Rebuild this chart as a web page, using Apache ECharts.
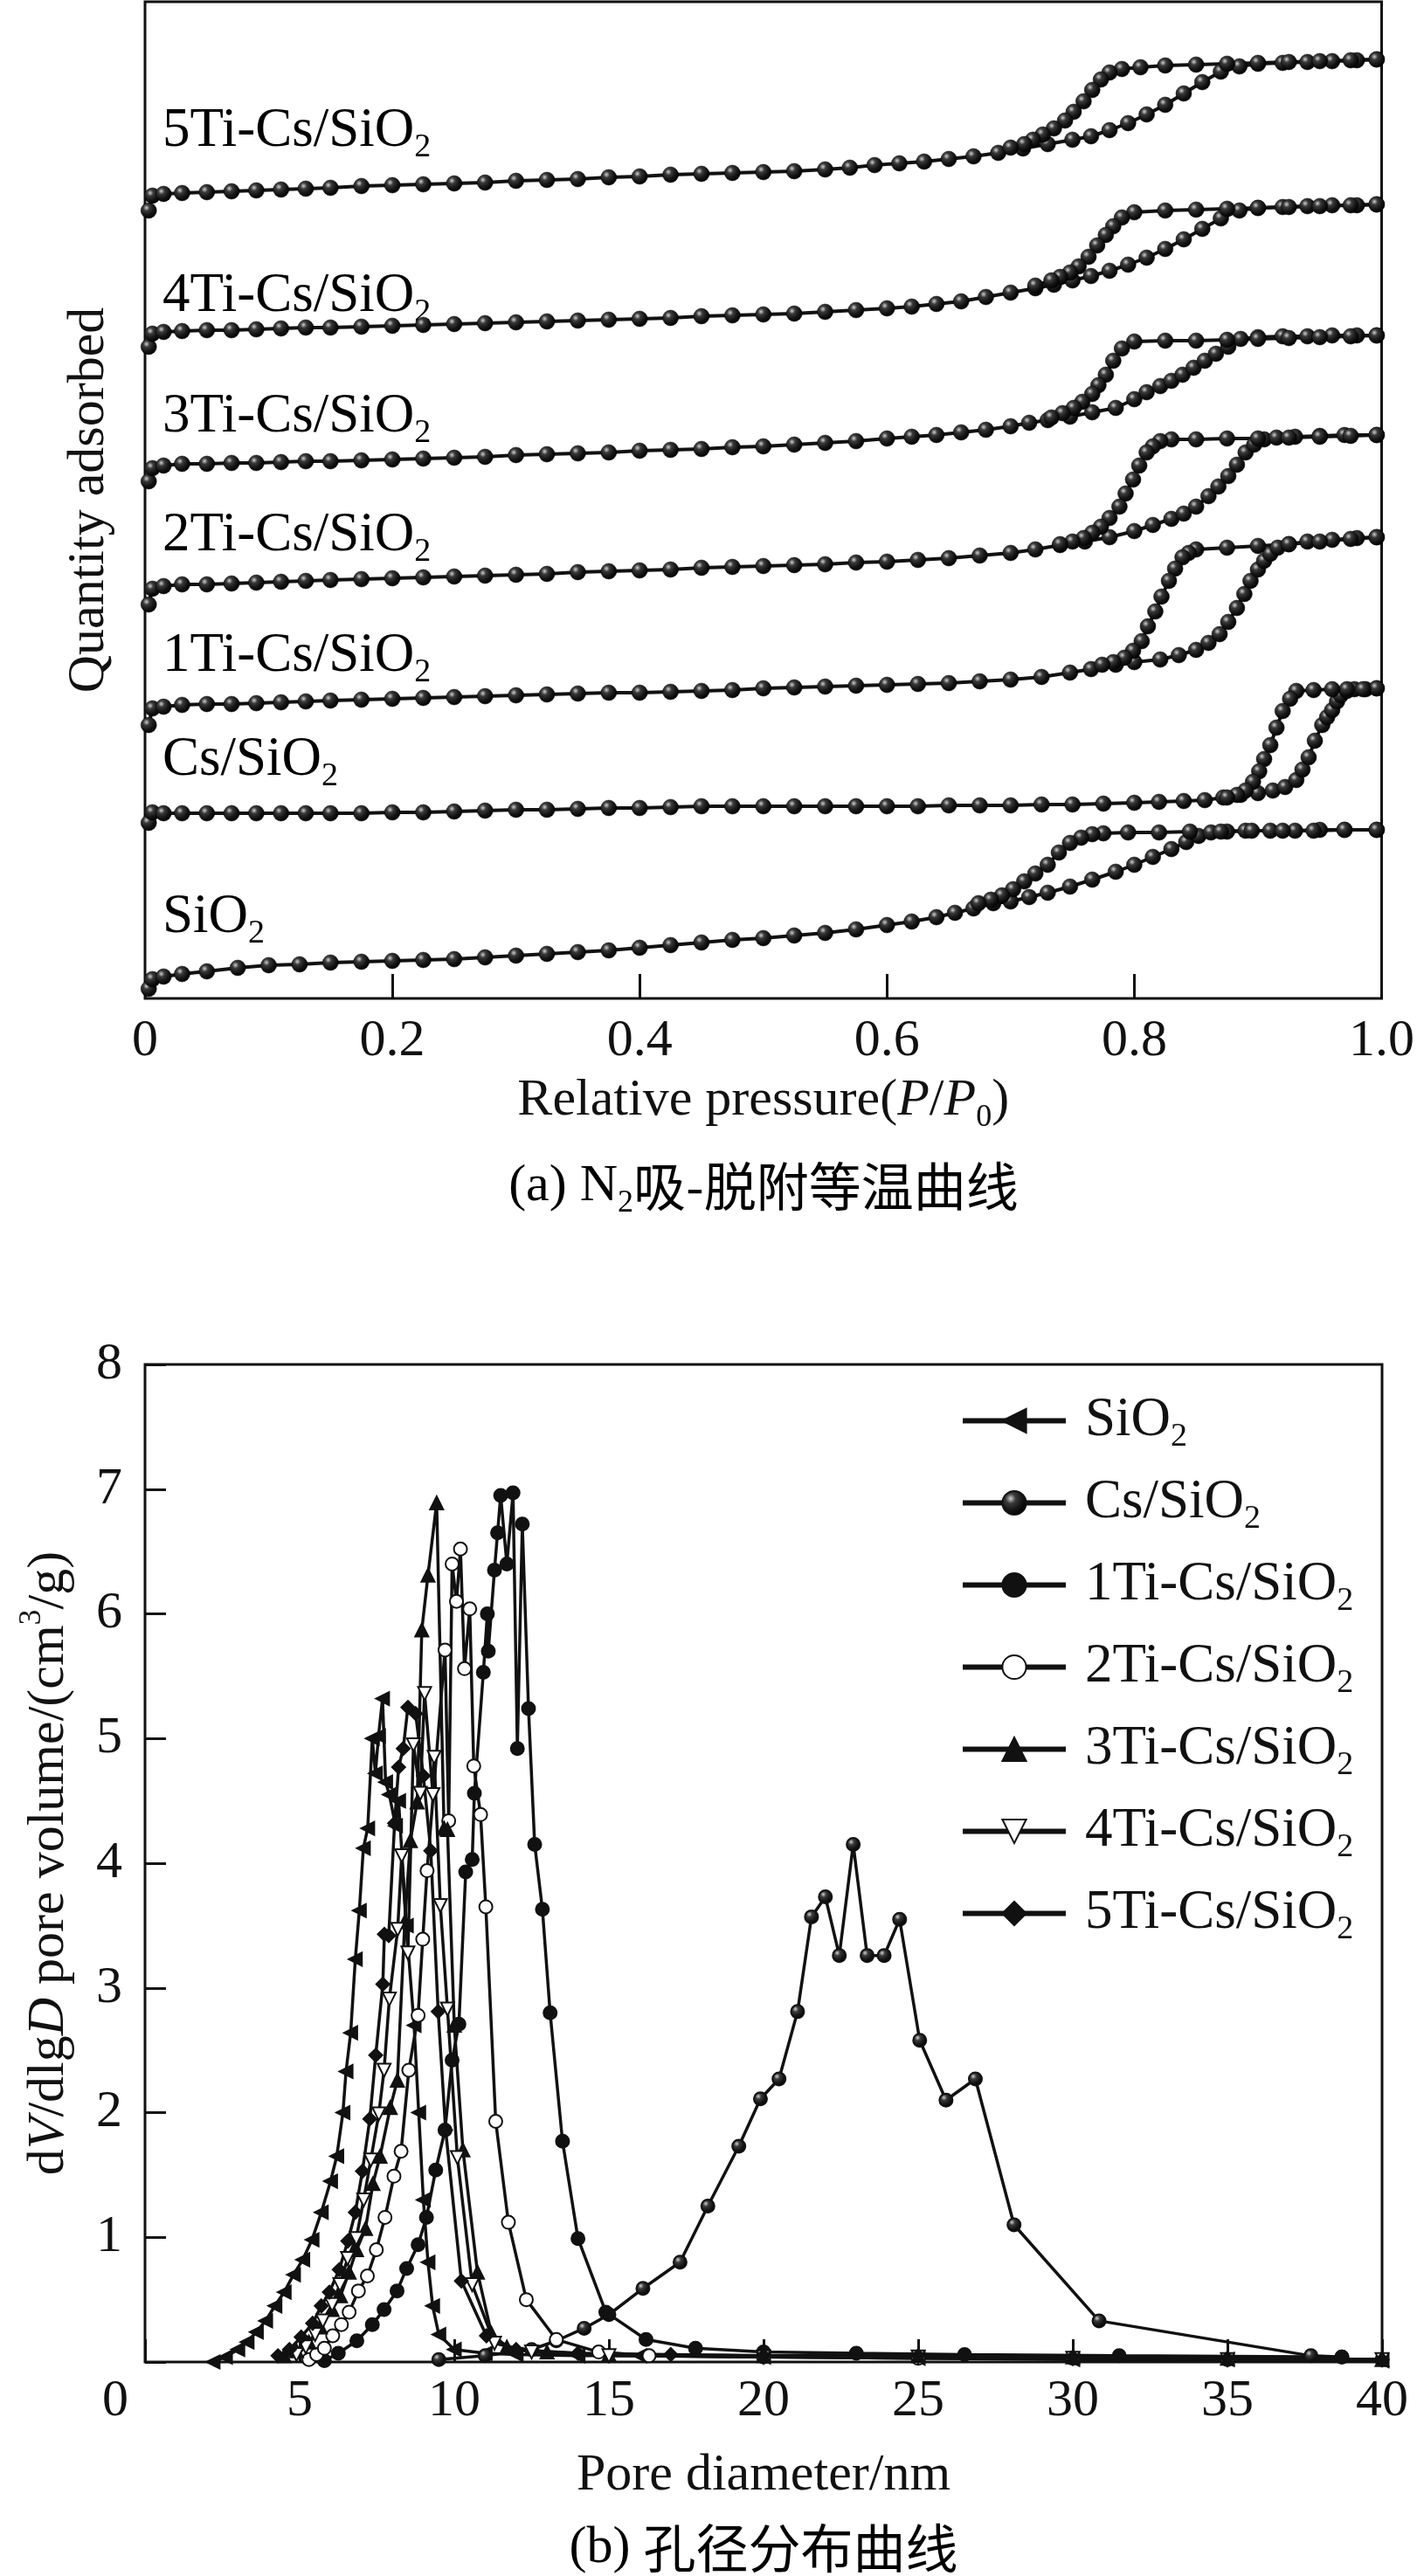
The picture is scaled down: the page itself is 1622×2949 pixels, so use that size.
<!DOCTYPE html>
<html>
<head>
<meta charset="utf-8">
<script src="https://cdn.jsdelivr.net/npm/echarts@6/dist/echarts.min.js"></script>
<style>
html, body { margin: 0; padding: 0; background: #fff; }
#main { width: 1622px; height: 2949px; }
</style>
</head>
<body>
<div id="main"></div>
<script>
// (a) N2 吸-脱附等温曲线: [P/P0, 吸附量(任意单位, 各曲线已错开)]
var sio2Ads = [[0.003,11],[0.006,22],[0.015,25],[0.03,28],[0.05,31],[0.075,35],[0.10,38],[0.125,39],[0.15,41],[0.175,42],[0.20,43],[0.225,44],[0.25,45],[0.275,47],[0.30,49],[0.325,51],[0.35,53],[0.375,55],[0.40,58],[0.425,61],[0.45,64],[0.475,67],[0.50,69],[0.525,72],[0.55,75],[0.575,79],[0.60,84],[0.62,88],[0.64,93],[0.655,98],[0.67,103],[0.686,109],[0.70,111],[0.715,116],[0.73,121],[0.748,128],[0.766,136],[0.785,145],[0.80,153],[0.815,162],[0.83,171],[0.842,179],[0.852,186],[0.862,190],[0.875,191],[0.89,192],[0.91,192],[0.93,192],[0.95,193],[0.97,193],[0.996,193]];
var sio2Des = [[0.996,193],[0.97,193],[0.945,192],[0.92,192],[0.895,192],[0.87,191],[0.845,191],[0.82,190],[0.795,190],[0.775,189],[0.766,188],[0.757,184],[0.748,178],[0.739,167],[0.73,153],[0.72,143],[0.711,134],[0.702,125],[0.693,118],[0.684,113],[0.674,109]];

var csAds = [[0.003,201],[0.006,213],[0.015,212],[0.03,212],[0.05,212],[0.07,212],[0.09,212],[0.11,212],[0.13,212],[0.15,212],[0.175,212],[0.20,213],[0.225,213],[0.25,214],[0.275,215],[0.30,216],[0.325,216],[0.35,217],[0.375,218],[0.40,218],[0.425,219],[0.45,220],[0.475,220],[0.50,220],[0.525,220],[0.55,220],[0.575,220],[0.60,220],[0.625,220],[0.65,221],[0.675,221],[0.70,221],[0.725,222],[0.75,222],[0.775,223],[0.80,224],[0.82,225],[0.84,226],[0.857,227],[0.872,230],[0.886,233],[0.90,235],[0.912,238],[0.922,242],[0.931,250],[0.936,262],[0.941,276],[0.946,295],[0.952,313],[0.956,322],[0.96,330],[0.964,340],[0.967,347],[0.972,352],[0.978,354],[0.987,354],[0.996,355]];
var csDes = [[0.996,355],[0.985,354],[0.972,354],[0.96,354],[0.945,353],[0.931,352],[0.926,343],[0.92,329],[0.915,310],[0.91,290],[0.905,274],[0.901,260],[0.896,248],[0.89,238],[0.883,233],[0.875,230]];

var ti1Ads = [[0.003,313],[0.006,332],[0.015,334],[0.03,336],[0.05,337],[0.07,337],[0.09,338],[0.11,339],[0.13,340],[0.15,341],[0.175,342],[0.20,343],[0.225,344],[0.25,345],[0.275,346],[0.30,347],[0.325,348],[0.35,349],[0.375,350],[0.40,350],[0.425,351],[0.45,352],[0.475,353],[0.50,355],[0.525,356],[0.55,357],[0.575,358],[0.60,359],[0.625,360],[0.65,361],[0.675,363],[0.70,365],[0.725,368],[0.748,373],[0.765,377],[0.785,382],[0.80,385],[0.821,388],[0.836,393],[0.85,399],[0.86,407],[0.869,417],[0.876,431],[0.883,447],[0.889,463],[0.894,478],[0.90,491],[0.905,501],[0.91,509],[0.916,516],[0.925,520],[0.94,523],[0.96,525],[0.98,527],[0.996,528]];
var ti1Des = [[0.996,528],[0.975,526],[0.95,523],[0.925,520],[0.90,518],[0.875,516],[0.85,514],[0.844,510],[0.839,505],[0.833,492],[0.828,478],[0.822,460],[0.817,443],[0.811,426],[0.806,409],[0.799,398],[0.792,390],[0.783,385],[0.774,382]];

var ti2Ads = [[0.003,451],[0.006,469],[0.015,472],[0.03,474],[0.05,474],[0.07,475],[0.09,476],[0.11,477],[0.13,478],[0.15,479],[0.175,480],[0.20,481],[0.225,482],[0.25,483],[0.275,484],[0.30,485],[0.325,486],[0.35,488],[0.375,489],[0.40,490],[0.425,491],[0.45,493],[0.475,494],[0.50,495],[0.525,496],[0.55,497],[0.575,499],[0.60,500],[0.625,502],[0.65,504],[0.675,507],[0.70,510],[0.72,514],[0.74,519],[0.76,523],[0.78,528],[0.80,535],[0.815,542],[0.83,549],[0.84,555],[0.85,563],[0.86,575],[0.868,586],[0.876,598],[0.883,611],[0.89,625],[0.897,634],[0.905,640],[0.915,642],[0.93,643],[0.95,644],[0.97,645],[0.996,645]];
var ti2Des = [[0.996,645],[0.975,644],[0.95,643],[0.925,642],[0.90,641],[0.875,641],[0.85,640],[0.83,640],[0.821,638],[0.815,632],[0.81,625],[0.804,610],[0.799,594],[0.793,578],[0.788,563],[0.78,550],[0.773,540],[0.766,533],[0.759,527],[0.75,523],[0.74,520]];

var ti3Ads = [[0.003,592],[0.006,607],[0.015,610],[0.03,612],[0.05,612],[0.07,613],[0.09,613],[0.11,614],[0.13,615],[0.15,615],[0.175,616],[0.20,617],[0.225,618],[0.25,619],[0.275,620],[0.30,622],[0.325,623],[0.35,624],[0.375,625],[0.40,627],[0.425,628],[0.45,629],[0.475,631],[0.50,632],[0.525,634],[0.55,636],[0.575,638],[0.60,641],[0.62,643],[0.64,645],[0.66,648],[0.68,651],[0.70,655],[0.715,659],[0.73,662],[0.748,666],[0.766,671],[0.785,676],[0.80,686],[0.81,694],[0.821,701],[0.83,707],[0.839,714],[0.848,722],[0.857,730],[0.866,738],[0.876,746],[0.886,755],[0.90,757],[0.92,758],[0.94,758],[0.96,759],[0.98,759],[0.996,759]];
var ti3Des = [[0.996,759],[0.975,758],[0.95,757],[0.925,756],[0.90,755],[0.875,754],[0.85,753],[0.825,753],[0.80,752],[0.79,744],[0.783,730],[0.777,714],[0.771,702],[0.766,692],[0.758,683],[0.751,676],[0.742,670],[0.733,665]];

var ti4Ads = [[0.003,746],[0.006,761],[0.015,763],[0.03,764],[0.05,765],[0.07,765],[0.09,766],[0.11,767],[0.13,768],[0.15,768],[0.175,769],[0.20,770],[0.225,771],[0.25,772],[0.275,773],[0.30,774],[0.325,775],[0.35,776],[0.375,777],[0.40,778],[0.425,779],[0.45,781],[0.475,782],[0.50,783],[0.525,784],[0.55,786],[0.575,788],[0.60,790],[0.62,792],[0.64,795],[0.66,798],[0.68,803],[0.70,808],[0.72,813],[0.735,817],[0.75,822],[0.765,827],[0.78,833],[0.795,840],[0.81,848],[0.825,858],[0.84,869],[0.855,881],[0.87,893],[0.885,902],[0.90,905],[0.92,906],[0.94,907],[0.96,908],[0.98,908],[0.996,909]];
var ti4Des = [[0.996,909],[0.975,908],[0.95,907],[0.925,906],[0.90,905],[0.875,904],[0.85,903],[0.825,902],[0.80,900],[0.79,894],[0.783,884],[0.777,874],[0.77,862],[0.763,849],[0.755,838],[0.748,831],[0.74,826],[0.733,822],[0.72,816]];

var ti5Ads = [[0.003,902],[0.006,919],[0.015,921],[0.03,922],[0.05,923],[0.07,924],[0.09,925],[0.11,926],[0.13,927],[0.15,928],[0.175,930],[0.20,931],[0.225,932],[0.25,933],[0.275,934],[0.30,936],[0.325,937],[0.35,938],[0.375,940],[0.40,941],[0.425,943],[0.45,944],[0.475,945],[0.50,946],[0.525,947],[0.55,949],[0.57,951],[0.59,954],[0.61,956],[0.63,958],[0.65,961],[0.67,964],[0.69,968],[0.71,973],[0.73,978],[0.75,983],[0.765,987],[0.78,994],[0.795,1002],[0.81,1012],[0.825,1023],[0.84,1036],[0.855,1049],[0.87,1061],[0.885,1067],[0.90,1070],[0.92,1071],[0.94,1072],[0.96,1073],[0.98,1074],[0.996,1075]];
var ti5Des = [[0.996,1075],[0.975,1074],[0.95,1073],[0.925,1072],[0.90,1071],[0.875,1070],[0.85,1069],[0.825,1068],[0.805,1066],[0.79,1064],[0.78,1060],[0.773,1052],[0.766,1040],[0.759,1027],[0.751,1015],[0.744,1005],[0.735,996],[0.726,989],[0.718,983],[0.711,978],[0.70,974]];

// 曲线旁的样品名及其基线位置(像素)
var isoNames = ['5Ti-Cs/SiO2', '4Ti-Cs/SiO2', '3Ti-Cs/SiO2', '2Ti-Cs/SiO2', '1Ti-Cs/SiO2', 'Cs/SiO2', 'SiO2'];
var isoNameBase = [176, 365, 503, 639, 777, 896, 1076];

// (b) 孔径分布: [孔径/nm, dV/dlgD]
var poreSiO2 = [[2.2,0.0],[2.6,0.04],[3.0,0.1],[3.3,0.16],[3.6,0.24],[3.9,0.33],[4.2,0.45],[4.5,0.56],[4.8,0.7],[5.1,0.82],[5.4,0.98],[5.7,1.2],[6.0,1.45],[6.2,1.65],[6.4,2.0],[6.5,2.33],[6.65,2.64],[6.8,3.23],[6.93,3.62],[7.06,4.12],[7.2,4.28],[7.35,5.0],[7.45,4.72],[7.55,5.02],[7.68,5.32],[7.78,4.65],[7.9,4.55],[8.1,4.3],[8.2,4.5],[8.45,3.5],[8.7,2.7],[8.85,2.0],[9.0,1.3],[9.15,0.8],[9.3,0.45],[9.5,0.22],[10,0.1],[11,0.07],[12,0.06],[14,0.05],[16,0.05],[20,0.04],[25,0.03],[30,0.02],[35,0.02],[40,0.01]];
var poreCs = [[9.5,0.02],[11,0.05],[12.5,0.1],[13.3,0.17],[14.2,0.27],[15.0,0.38],[16.1,0.59],[17.3,0.8],[18.2,1.25],[19.2,1.73],[19.9,2.11],[20.5,2.27],[21.1,2.81],[21.55,3.57],[22.0,3.73],[22.45,3.26],[22.9,4.15],[23.35,3.26],[23.9,3.26],[24.4,3.55],[25.05,2.58],[25.9,2.1],[26.85,2.27],[28.1,1.1],[30.85,0.33],[37.7,0.05],[38.7,0.04]];
var pore1Ti = [[5.8,0.01],[6.25,0.07],[6.85,0.17],[7.35,0.3],[7.73,0.42],[8.15,0.57],[8.46,0.75],[8.83,0.94],[9.1,1.16],[9.4,1.54],[9.7,1.86],[9.93,2.42],[10.15,2.71],[10.37,3.93],[10.58,4.03],[10.65,4.56],[10.94,5.53],[11.07,6.0],[11.1,5.7],[11.3,6.35],[11.4,6.65],[11.5,6.95],[11.7,6.4],[11.9,6.97],[12.04,4.92],[12.2,6.72],[12.4,5.24],[12.6,4.15],[12.85,3.63],[13.1,2.8],[13.5,1.77],[14.0,0.99],[14.9,0.4],[16.2,0.18],[17.8,0.11],[20,0.08],[23,0.07],[26.5,0.06],[31.5,0.05],[38.7,0.04]];
var pore2Ti = [[5.3,0.02],[5.55,0.06],[5.8,0.11],[6.07,0.21],[6.35,0.3],[6.6,0.4],[6.9,0.57],[7.19,0.69],[7.48,0.9],[7.76,1.16],[8.05,1.49],[8.28,1.69],[8.53,2.34],[8.83,2.78],[8.98,3.39],[9.12,3.94],[9.7,5.71],[9.82,4.34],[9.93,6.4],[10.07,6.1],[10.2,6.52],[10.33,5.56],[10.5,6.04],[10.63,4.78],[10.85,4.39],[11.02,3.65],[11.34,1.93],[11.75,1.12],[12.33,0.5],[13.3,0.18],[14.67,0.08],[16.3,0.05],[20,0.04],[25,0.03],[30,0.03],[35,0.02],[40,0.02]];
var pore3Ti = [[4.5,0.05],[4.9,0.09],[5.3,0.16],[5.67,0.28],[6.05,0.42],[6.32,0.53],[6.6,0.72],[6.84,0.9],[7.13,1.07],[7.37,1.43],[7.6,1.65],[7.93,2.04],[8.16,2.26],[8.4,3.53],[8.58,4.18],[8.8,4.49],[8.95,5.87],[9.15,6.31],[9.43,6.89],[9.67,4.28],[9.78,4.27],[10.0,2.7],[10.28,1.7],[10.75,0.72],[11.2,0.23],[11.7,0.12],[13,0.08],[15,0.06],[20,0.05],[25,0.05],[30,0.04],[35,0.03],[40,0.02]];
var pore4Ti = [[4.9,0.06],[5.2,0.12],[5.5,0.22],[5.75,0.33],[6.05,0.46],[6.3,0.62],[6.55,0.83],[6.83,0.99],[7.07,1.3],[7.3,1.62],[7.56,1.99],[7.73,2.34],[7.9,2.91],[8.17,3.47],[8.3,4.06],[8.5,3.28],[8.68,4.95],[8.9,4.56],[9.04,5.36],[9.31,4.55],[9.35,4.85],[9.55,3.66],[9.78,2.83],[10.1,1.64],[10.58,0.62],[11.3,0.15],[12.5,0.08],[15,0.05],[20,0.04],[25,0.04],[30,0.03],[35,0.02],[40,0.02]];
var pore5Ti = [[4.3,0.05],[4.67,0.1],[5.05,0.2],[5.42,0.31],[5.7,0.45],[5.96,0.56],[6.28,0.74],[6.56,0.97],[6.8,1.2],[7.03,1.53],[7.27,1.95],[7.46,2.46],[7.69,3.03],[7.74,3.43],[7.88,3.42],[8.07,4.32],[8.2,4.77],[8.35,4.92],[8.5,5.25],[8.75,5.2],[9.0,4.7],[9.24,4.1],[9.48,2.81],[9.72,1.86],[10.23,0.65],[11.04,0.21],[12,0.1],[14,0.07],[17,0.06],[20,0.05],[25,0.05],[30,0.04],[35,0.03],[40,0.02]];

var poreNames = ['SiO2', 'Cs/SiO2', '1Ti-Cs/SiO2', '2Ti-Cs/SiO2', '3Ti-Cs/SiO2', '4Ti-Cs/SiO2', '5Ti-Cs/SiO2'];

var FONT = "'Liberation Serif', 'Times New Roman', 'Noto Sans CJK SC', serif";
var INK = '#111';

var rich = {
    m: {fontSize: 60, lineHeight: 75, fontFamily: FONT, color: INK},
    i: {fontSize: 60, lineHeight: 75, fontFamily: FONT, fontStyle: 'italic', color: INK},
    s: {fontSize: 36, lineHeight: 32, verticalAlign: 'bottom', fontFamily: FONT, color: INK},
    p: {fontSize: 36, lineHeight: 40, verticalAlign: 'top', fontFamily: FONT, color: INK},
    c: {fontSize: 60, lineHeight: 75, fontFamily: "'Noto Sans CJK SC', sans-serif", color: INK}
};
// 样品名与图例的字号略大
var richBig = {
    m: {fontSize: 63, lineHeight: 75, fontFamily: FONT, color: INK},
    s: {fontSize: 38, lineHeight: 32, verticalAlign: 'bottom', fontFamily: FONT, color: INK}
};

// 'Cs/SiO2' -> 带下标的富文本
function subName(name) {
    return '{m|' + name.slice(0, -1) + '}{s|2}';
}

// 带高光的小球
var ball = {
    type: 'radial', x: 0.36, y: 0.33, r: 0.7,
    colorStops: [
        {offset: 0, color: '#cfcfcf'},
        {offset: 0.28, color: '#3a3a3a'},
        {offset: 0.65, color: '#151515'},
        {offset: 1, color: '#000'}
    ]
};

function isoSeries(data) {
    return {
        type: 'line',
        xAxisIndex: 0,
        yAxisIndex: 0,
        data: data,
        symbol: 'circle',
        symbolSize: 18,
        lineStyle: {color: INK, width: 4},
        itemStyle: {color: ball, borderColor: '#000', borderWidth: 0.5},
        silent: true
    };
}

function poreSeries(name, data, symbol, rotate, fill) {
    return {
        name: name,
        type: 'line',
        xAxisIndex: 1,
        yAxisIndex: 1,
        data: data,
        symbol: symbol,
        symbolRotate: rotate,
        symbolSize: 15,
        lineStyle: {color: INK, width: 3.5},
        itemStyle: {color: fill, borderColor: INK, borderWidth: 2},
        silent: true
    };
}

var myChart = echarts.init(document.getElementById('main'), null, {renderer: 'canvas'});

var graphics = [];
isoNames.forEach(function (n, k) {
    graphics.push({
        type: 'text', left: 186, top: isoNameBase[k] - 57,
        style: {text: subName(n), rich: richBig}
    });
});
graphics.push({
    type: 'text', x: 874, y: 1358,
    style: {text: '{m|(a) N}{s|2}{c|吸-脱附等温曲线}', rich: rich, align: 'center', verticalAlign: 'middle'}
});
graphics.push({
    type: 'text', x: 874, y: 2917,
    style: {text: '{m|(b) }{c|孔径分布曲线}', rich: rich, align: 'center', verticalAlign: 'middle'}
});
graphics.push({
    type: 'text', x: 132, y: 2749,
    style: {text: '0', font: '60px ' + FONT, fill: INK, align: 'center', verticalAlign: 'middle'}
});

var option = {
    animation: false,
    backgroundColor: '#fff',
    grid: [
        {left: 166, top: 2, width: 1416, height: 1141, show: true, borderColor: INK, borderWidth: 3},
        {left: 166, top: 1562, width: 1416, height: 1142, show: true, borderColor: INK, borderWidth: 3}
    ],
    xAxis: [
        {
            gridIndex: 0, type: 'value', min: 0, max: 1, interval: 0.2,
            name: '{m|Relative pressure(}{i|P}{m|/}{i|P}{s|0}{m|)}',
            nameLocation: 'middle', nameGap: 80,
            nameTextStyle: {rich: rich},
            axisLine: {show: false},
            axisTick: {show: true, inside: true, length: 28, lineStyle: {color: INK, width: 3}},
            axisLabel: {
                margin: 19, fontSize: 60, lineHeight: 60, fontFamily: FONT, color: INK,
                formatter: function (v) { return v === 0 ? '0' : v.toFixed(1); }
            },
            splitLine: {show: false}
        },
        {
            gridIndex: 1, type: 'value', min: 0, max: 40, interval: 5,
            name: '{m|Pore diameter/nm}',
            nameLocation: 'middle', nameGap: 93,
            nameTextStyle: {rich: rich},
            axisLine: {show: false},
            axisTick: {show: true, inside: true, length: 26, lineStyle: {color: INK, width: 3}},
            axisLabel: {
                margin: 15, fontSize: 60, lineHeight: 60, fontFamily: FONT, color: INK,
                formatter: function (v) { return v === 0 ? '' : String(v); }
            },
            splitLine: {show: false}
        }
    ],
    yAxis: [
        {
            gridIndex: 0, type: 'value', min: 0, max: 1141,
            name: '{m|Quantity adsorbed}',
            nameLocation: 'middle', nameGap: 26, nameRotate: 90,
            nameTextStyle: {rich: rich},
            axisLine: {show: false},
            axisTick: {show: false},
            axisLabel: {show: false},
            splitLine: {show: false}
        },
        {
            gridIndex: 1, type: 'value', min: 0, max: 8, interval: 1,
            name: '{m|d}{i|V}{m|/dlg}{i|D}{m| pore volume/(cm}{p|3}{m|/g)}',
            nameLocation: 'middle', nameGap: 72, nameRotate: 90,
            nameTextStyle: {rich: rich},
            axisLine: {show: false},
            axisTick: {show: true, inside: true, length: 24, lineStyle: {color: INK, width: 3}},
            axisLabel: {
                margin: 26, fontSize: 60, fontFamily: FONT, color: INK,
                formatter: function (v) { return v === 0 ? '' : String(v); }
            },
            splitLine: {show: false}
        }
    ],
    legend: {
        data: poreNames,
        orient: 'vertical',
        left: 1094,
        top: 1590,
        itemWidth: 118,
        itemHeight: 34,
        itemGap: 25,
        selectedMode: false,
        lineStyle: {width: 6},
        formatter: function (n) { return subName(n); },
        textStyle: {rich: richBig, padding: [0, 0, 0, 17]}
    },
    graphic: graphics,
    series: [
        isoSeries(sio2Ads), isoSeries(sio2Des),
        isoSeries(csAds), isoSeries(csDes),
        isoSeries(ti1Ads), isoSeries(ti1Des),
        isoSeries(ti2Ads), isoSeries(ti2Des),
        isoSeries(ti3Ads), isoSeries(ti3Des),
        isoSeries(ti4Ads), isoSeries(ti4Des),
        isoSeries(ti5Ads), isoSeries(ti5Des),
        poreSeries('SiO2', poreSiO2, 'triangle', 90, INK),
        poreSeries('Cs/SiO2', poreCs, 'circle', 0, ball),
        poreSeries('1Ti-Cs/SiO2', pore1Ti, 'circle', 0, INK),
        poreSeries('2Ti-Cs/SiO2', pore2Ti, 'circle', 0, '#fff'),
        poreSeries('3Ti-Cs/SiO2', pore3Ti, 'triangle', 0, INK),
        poreSeries('4Ti-Cs/SiO2', pore4Ti, 'triangle', 180, '#fff'),
        poreSeries('5Ti-Cs/SiO2', pore5Ti, 'diamond', 0, INK)
    ]
};

myChart.setOption(option);
</script>
</body>
</html>
